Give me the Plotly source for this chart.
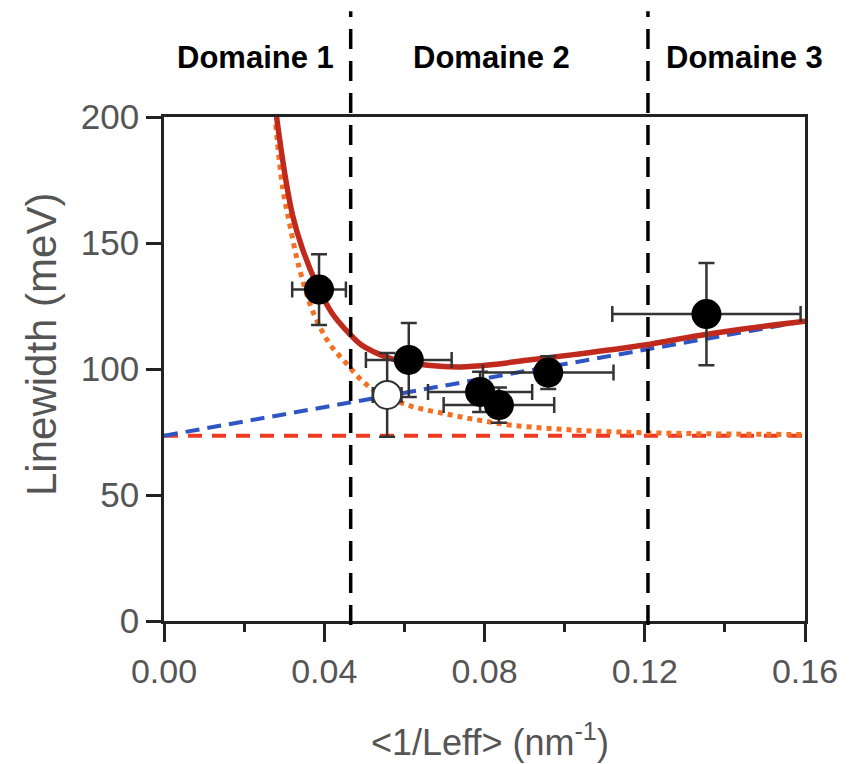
import plotly.graph_objects as go

# ---- data ----
red_x = [0.0281, 0.0301, 0.0321, 0.0345, 0.0380, 0.0420, 0.0454, 0.0493, 0.0535,
         0.0577, 0.0658, 0.0740, 0.0823, 0.0905, 0.1028, 0.1200, 0.1324, 0.1450, 0.1600]
red_y = [200, 178, 161, 148, 134, 122, 115.5, 109.5, 106, 103.6, 101.5, 100.8,
         101.8, 103.5, 105.8, 109.5, 113, 116, 119]

orange_x = [0.0279, 0.0296, 0.0313, 0.0330, 0.0343, 0.0370, 0.0412, 0.0454, 0.0493,
            0.0535, 0.0616, 0.0700, 0.0782, 0.0863, 0.0971, 0.1100, 0.1300, 0.1600]
orange_y = [197, 172, 158, 145, 137, 123.4, 110.3, 102.4, 95.6, 90.5, 85.3, 82.3,
            79.8, 77.8, 76.3, 75.2, 74.4, 74]

blue_x = [0.0, 0.16]
blue_y = [73.5, 119]

base_x = [0.0, 0.16]
base_y = [73.5, 73.5]

pts_x = [0.0387, 0.0611, 0.0789, 0.0836, 0.0959, 0.1354]
pts_y = [131.5, 103.6, 90.9, 85.7, 98.6, 121.8]
pts_xerr = [0.0067, 0.0107, 0.0130, 0.0138, 0.0163, 0.0235]
pts_yerr = [14, 14.7, 8, 7, 6.5, 20.3]

open_x = [0.0557]
open_y = [89.7]
open_xerr = [0.0036]
open_yerr = [16.6]

domain_lines = [0.0466, 0.1208]
domain_labels = ["Domaine 1", "Domaine 2", "Domaine 3"]
domain_label_x = [0.0228, 0.0818, 0.1449]

x_ticks = [0.0, 0.04, 0.08, 0.12, 0.16]
x_ticktext = ["0.00", "0.04", "0.08", "0.12", "0.16"]
y_ticks = [0, 50, 100, 150, 200]

# ---- figure ----
FONT = "Liberation Sans, Arial, Helvetica, sans-serif"
ERRC = "#333333"
TXT = "#555555"

fig = go.Figure()

fig.add_trace(go.Scatter(x=base_x, y=base_y, mode="lines",
                         line=dict(color="#ee3a24", width=4, dash="14px,10px"),
                         hoverinfo="skip"))
fig.add_trace(go.Scatter(x=blue_x, y=blue_y, mode="lines",
                         line=dict(color="#2f55c4", width=4, dash="14px,8px"),
                         hoverinfo="skip"))
fig.add_trace(go.Scatter(x=orange_x, y=orange_y, mode="lines", line_shape="spline",
                         line=dict(color="#f47023", width=5, dash="dot"),
                         hoverinfo="skip"))
fig.add_trace(go.Scatter(x=red_x, y=red_y, mode="lines", line_shape="spline",
                         line=dict(color="#bf2a1c", width=5.5),
                         hoverinfo="skip"))

fig.add_trace(go.Scatter(
    x=open_x, y=open_y, mode="markers",
    marker=dict(size=28, color="white", line=dict(color="#333333", width=2)),
    error_x=dict(type="data", array=open_xerr, color=ERRC, thickness=2.5, width=8),
    error_y=dict(type="data", array=open_yerr, color=ERRC, thickness=2.5, width=8),
))
fig.add_trace(go.Scatter(
    x=pts_x, y=pts_y, mode="markers",
    marker=dict(size=30, color="black", line=dict(width=0)),
    error_x=dict(type="data", array=pts_xerr, color=ERRC, thickness=2.5, width=8),
    error_y=dict(type="data", array=pts_yerr, color=ERRC, thickness=2.5, width=8),
))

for xv in domain_lines:
    fig.add_shape(type="line", xref="x", yref="paper", x0=xv, x1=xv,
                  y0=-0.008, y1=1.21,
                  line=dict(color="black", width=3.5, dash="20px,12px"))

for lab, xv in zip(domain_labels, domain_label_x):
    fig.add_annotation(text=lab, xref="x", yref="paper", x=xv, y=1.118,
                       showarrow=False, xanchor="center", yanchor="middle",
                       font=dict(family=FONT, size=31, color="black", weight="bold"))

fig.add_annotation(text="&lt;1/Leff&gt; (nm<sup>-1</sup>)", xref="paper", yref="paper",
                   x=0.508, y=-0.236, showarrow=False, xanchor="center", yanchor="middle",
                   font=dict(family=FONT, size=36, color=TXT))
fig.add_annotation(text="Linewidth (meV)", xref="paper", yref="paper",
                   x=-0.19, y=0.548, showarrow=False, textangle=-90,
                   xanchor="center", yanchor="middle",
                   font=dict(family=FONT, size=42, color=TXT))

# page body adds an 8px offset; figure is sized/margined to compensate
fig.update_layout(
    width=842, height=756, autosize=False,
    margin=dict(l=156, r=35, t=109, b=143),
    paper_bgcolor="white", plot_bgcolor="white",
    showlegend=False,
    font=dict(family=FONT, color=TXT),
)
fig.update_xaxes(range=[0, 0.16], tickvals=x_ticks, ticktext=x_ticktext,
                 showgrid=False, zeroline=False,
                 showline=True, linecolor="#222222", linewidth=2.5, mirror=True,
                 ticks="outside", ticklen=18, tickwidth=2.5, tickcolor="#222222",
                 minor=dict(dtick=0.02, ticks="outside", ticklen=8, tickwidth=2.5,
                            tickcolor="#222222", showgrid=False),
                 tickfont=dict(family=FONT, size=34, color=TXT))
fig.update_yaxes(range=[0, 200], tickvals=y_ticks,
                 showgrid=False, zeroline=False,
                 showline=True, linecolor="#222222", linewidth=2.5, mirror=True,
                 ticks="outside", ticklen=15, tickwidth=2.5, tickcolor="#222222",
                 tickfont=dict(family=FONT, size=35, color=TXT))

fig.write_html("out.html")
